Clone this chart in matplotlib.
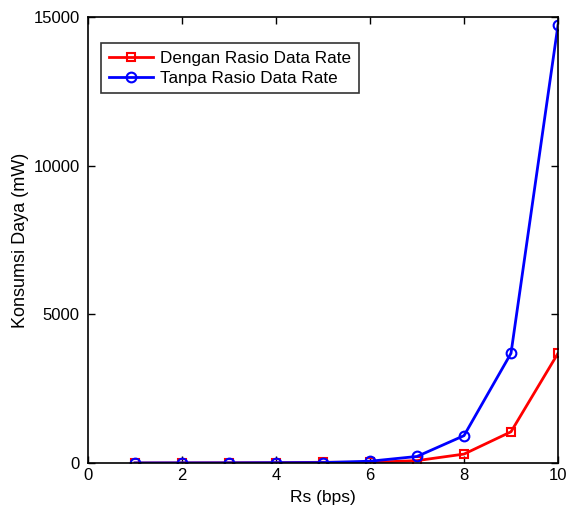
import matplotlib
matplotlib.use("Agg")
import matplotlib.pyplot as plt

plt.rcParams['font.family'] = ['Liberation Sans', 'DejaVu Sans']

rs = [1, 2, 3, 4, 5, 6, 7, 8, 9, 10]
dengan = [0.5, 2, 6, 8, 25, 20, 80, 300, 1050, 3690]
tanpa = [1, 3, 4, 10, 15, 60, 220, 920, 3690, 14730]

fig = plt.figure(figsize=(5.68, 5.08), dpi=100)
ax = fig.add_axes([88/568, 1 - 463/508, (558-88)/568, (463-17)/508])

ax.plot(rs, dengan, color='#ff0000', lw=2, marker='s', ms=6, mfc='none', mec='#ff0000', mew=1.5,
        label='Dengan Rasio Data Rate')
ax.plot(rs, tanpa, color='#0000ff', lw=2, marker='o', ms=7, mfc='none', mec='#0000ff', mew=1.5,
        label='Tanpa Rasio Data Rate')

ax.set_xlim(0, 10)
ax.set_ylim(0, 15000)
ax.set_xticks([0, 2, 4, 6, 8, 10])
ax.set_yticks([0, 5000, 10000, 15000])
ax.tick_params(direction='in', labelsize=12, length=5, top=True, right=True, width=1)
ax.tick_params(axis='y', pad=6)
for s in ax.spines.values():
    s.set_linewidth(1.2)
ax.set_xlabel('Rs (bps)', fontsize=12.5, labelpad=5)
ax.set_ylabel('Konsumsi Daya (mW)', fontsize=13, labelpad=3)

leg = ax.legend(loc='upper left', bbox_to_anchor=(0.028, 0.942), borderaxespad=0,
                fontsize=12.3, frameon=True,
                fancybox=False, edgecolor='black', handlelength=2.6, borderpad=0.45,
                labelspacing=0.3, handletextpad=0.4)
leg.get_frame().set_linewidth(1.2)

fig.savefig('out.png', dpi=100)
